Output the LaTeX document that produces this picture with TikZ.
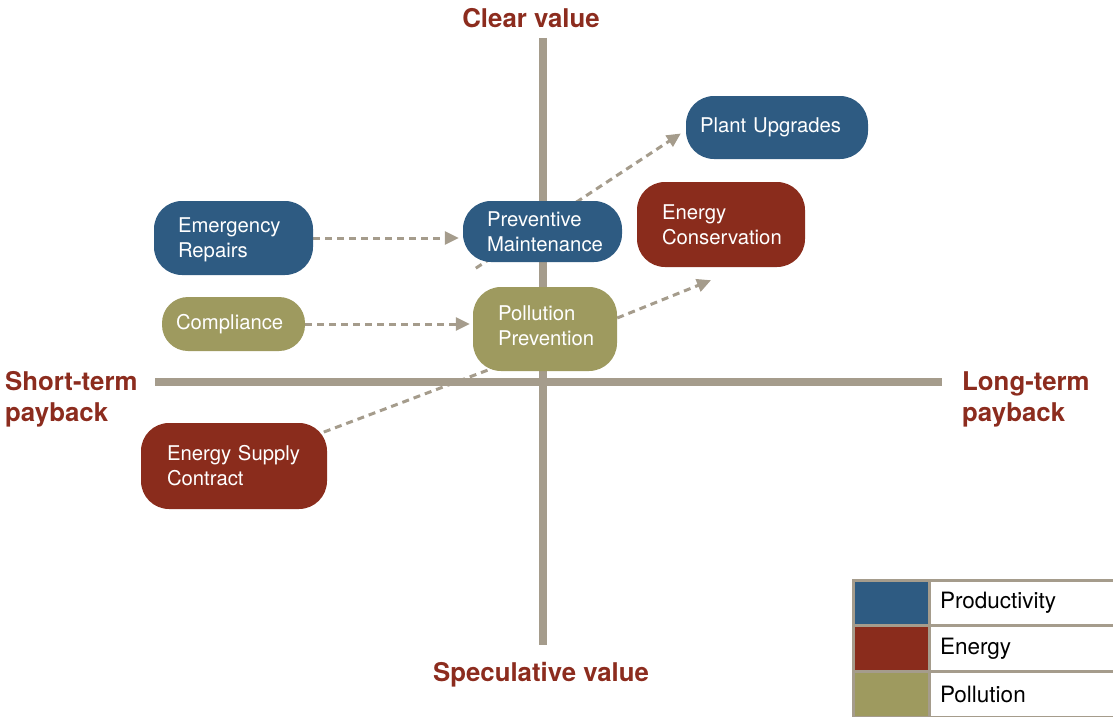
\documentclass[tikz,border=0pt]{standalone}
\usepackage{fontspec}
\setmainfont{TeX Gyre Heros}
\usepackage{tikz}
\usetikzlibrary{positioning}
\usetikzlibrary{arrows.meta, backgrounds}
\definecolor{prodblue}{RGB}{46,91,130}
\definecolor{energyred}{RGB}{138,44,28}
\definecolor{pollolive}{RGB}{158,154,95}
\definecolor{axisgray}{RGB}{165,156,140}
\definecolor{titlered}{RGB}{140,44,30}
\tikzstyle{card} = [rectangle, rounded corners=28pt, text=white, align=left, inner ysep=0pt, font=\fontsize{20.3}{25}\selectfont]
\tikzstyle{prodcard} = [card, fill=prodblue]
\tikzstyle{energycard} = [card, fill=energyred]
\tikzstyle{pollcard} = [card, fill=pollolive]
\tikzstyle{axisline} = [axisgray, line width=8pt]
\tikzstyle{link} = [axisgray, line width=3pt, dash pattern=on 7pt off 5pt]
\tikzstyle{arrow} = [link, -{Triangle[length=14pt,width=13pt]}]
\tikzstyle{axislabel} = [text=titlered, inner sep=0pt, align=left, font=\fontsize{25.8}{31}\selectfont\bfseries]
\tikzstyle{swatch} = [rectangle, draw=axisgray, line width=3pt, outer sep=0pt, minimum width=76pt, minimum height=45.7pt]
\tikzstyle{keytext} = [rectangle, draw=axisgray, line width=3pt, outer sep=0pt, minimum height=45.7pt, text width=180pt, inner xsep=11pt, align=left, font=\fontsize{22.5}{27}\selectfont]

\begin{document}
\begin{tikzpicture}[x=1pt, y=-1pt]
\useasboundingbox (0,0) rectangle (1113,717);

\node[axislabel, anchor=base] (clear) at (531,28) {Clear value};
\node[axislabel, anchor=base] (spec) at (541,681) {Speculative value};
\node[axislabel, anchor=west] (short) at (5,399) {Short-term\\payback};
\node[axislabel, anchor=west] (long) at (962,399) {Long-term\\payback};

\node[prodcard, text width=111pt, inner xsep=24pt, minimum height=74pt] (repairs) at (233.5,238) {\strut Emergency\\Repairs};
\node[prodcard, text width=111pt, inner xsep=24pt, minimum height=61pt] (maint) at (542.5,231.5) {Preventive\\Maintenance};
\node[prodcard, text width=154pt, inner xsep=14pt, minimum height=63pt] (upgrades) at (777,127.5) {Plant Upgrades};
\node[energycard, text width=118pt, inner xsep=25pt, minimum height=85pt] (conserv) at (721,224.5) {Energy\\Conservation};
\node[pollcard, text width=115pt, inner xsep=14pt, minimum height=54pt, rounded corners=26pt] (compl) at (233.5,324) {Compliance};
\node[pollcard, text width=94pt, inner xsep=25pt, minimum height=84pt] (prevent) at (545,329) {Pollution\\Prevention\strut};
\node[energycard, text width=134pt, inner xsep=26pt, minimum height=86pt] (supply) at (234,466) {Energy Supply\\Contract};

\coordinate (mainttail) at ([xshift=13pt,yshift=-6pt]maint.south west);
\coordinate (upgtip) at ([shift={(-5pt,-6pt)}]upgrades.west);
\coordinate (conservtip) at ([shift={(-10pt,-13pt)}]conserv.south);
\coordinate (preventend) at ([shift={(20pt,3pt)}]prevent.south west);

\begin{scope}[on background layer]
% axes
\draw[axisline] (543,38) -- (543,645);
\draw[axisline] (155,382) -- (942,382);
% paths
\draw[arrow, shorten >=4pt] (repairs.east) -- (repairs.east -| maint.west);
\draw[arrow, shorten >=3pt] (compl.east) -- (compl.east -| prevent.west);
\draw[arrow] (mainttail) -- (upgtip);
\draw[arrow] ([yshift=11pt]prevent.east) -- (conservtip);
\draw[link] (supply.center) -- (preventend);
\end{scope}

% key
\node[swatch, fill=prodblue] (prodkey) at (891,603) {};
\node[keytext, right=0pt of prodkey] (prodtext) {Productivity};
\node[swatch, fill=energyred, below=0pt of prodkey] (energykey) {};
\node[keytext, right=0pt of energykey] (energytext) {Energy};
\node[swatch, fill=pollolive, below=0pt of energykey] (pollkey) {};
\node[keytext, right=0pt of pollkey] (polltext) {Pollution};
\end{tikzpicture}
\end{document}
